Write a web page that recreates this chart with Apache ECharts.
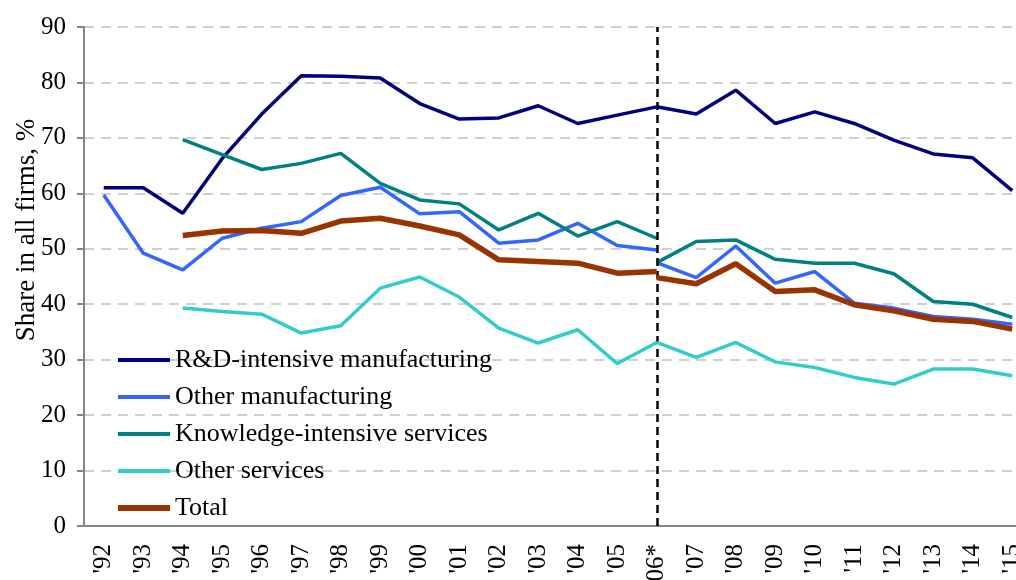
<!DOCTYPE html>
<html>
<head>
<meta charset="utf-8">
<script src="https://cdn.jsdelivr.net/npm/echarts@6/dist/echarts.min.js"></script>
<style>
  html, body { margin: 0; padding: 0; background: #fff; }
  #chart { width: 1016px; height: 580px; }
</style>
</head>
<body>
<div id="chart"></div>
<script>
// 年份 ('06 为断点，前后各一个值)
const years = ["'92", "'93", "'94", "'95", "'96", "'97", "'98", "'99", "'00", "'01", "'02", "'03", "'04", "'05", "'06*",
  "'07", "'08", "'09", "'10", "'11", "'12", "'13", "'14", "'15"];

// '92 - '06
const rdPre = [61.0, 61.0, 56.4, 66.3, 74.3, 81.2, 81.1, 80.8, 76.2, 73.4, 73.6, 75.8, 72.6, 74.1, 75.6];
const otherMfgPre = [59.7, 49.2, 46.2, 51.9, 53.7, 54.9, 59.6, 61.1, 56.3, 56.7, 51.0, 51.6, 54.6, 50.6, 49.8];
const kisPre = [null, null, 69.7, 67.0, 64.3, 65.4, 67.2, 61.8, 58.8, 58.1, 53.4, 56.4, 52.3, 54.9, 51.9];
const otherSrvPre = [null, null, 39.3, 38.7, 38.2, 34.8, 36.1, 42.9, 44.9, 41.3, 35.7, 33.0, 35.4, 29.3, 33.1];
const totalPre = [null, null, 52.4, 53.2, 53.3, 52.8, 55.0, 55.5, 54.1, 52.5, 48.0, 47.7, 47.4, 45.6, 45.9];

// '06 - '15
const rdPost = [75.6, 74.3, 78.6, 72.6, 74.7, 72.6, 69.6, 67.1, 66.4, 60.5];
const otherMfgPost = [47.5, 44.8, 50.5, 43.8, 45.9, 40.2, 39.3, 37.8, 37.3, 36.4];
const kisPost = [47.5, 51.3, 51.6, 48.1, 47.4, 47.4, 45.5, 40.5, 40.0, 37.6];
const otherSrvPost = [33.1, 30.4, 33.1, 29.6, 28.6, 26.8, 25.6, 28.3, 28.3, 27.1];
const totalPost = [44.8, 43.7, 47.3, 42.3, 42.6, 39.9, 38.8, 37.3, 36.9, 35.5];

const yTicks = [0, 10, 20, 30, 40, 50, 60, 70, 80, 90];

const FONT = 'Liberation Serif';
const breakIdx = 14;

const groups = [
  { name: 'R&D-intensive manufacturing', color: '#000080', width: 3.5, pre: rdPre, post: rdPost },
  { name: 'Other manufacturing', color: '#3366ff', width: 3.5, pre: otherMfgPre, post: otherMfgPost },
  { name: 'Knowledge-intensive services', color: '#008080', width: 3.5, pre: kisPre, post: kisPost },
  { name: 'Other services', color: '#33cccc', width: 3.5, pre: otherSrvPre, post: otherSrvPost },
  { name: 'Total', color: '#993300', width: 5.5, pre: totalPre, post: totalPost },
];

// 断点前后拆成两条线，同名共用一个图例
const padPre = (arr) => years.map((y, i) => (i < arr.length ? arr[i] : null));
const padPost = (arr) => years.map((y, i) => (i >= breakIdx ? arr[i - breakIdx] : null));

const series = [];
groups.forEach((g, gi) => {
  const common = {
    name: g.name,
    type: 'line',
    symbol: 'none',
    connectNulls: false,
    color: g.color,
    lineStyle: { color: g.color, width: g.width },
    z: 2 + gi,
  };
  series.push({ ...common, data: padPre(g.pre) });
  series.push({ ...common, data: padPost(g.post) });
});

// 2006 断点竖线
series[0].markLine = {
  silent: true,
  symbol: 'none',
  label: { show: false },
  lineStyle: { color: '#000', type: [8, 5], width: 2.5 },
  data: [{ xAxis: "'06*" }],
};

const chart = echarts.init(document.getElementById('chart'), null, { renderer: 'canvas' });
chart.setOption({
  animation: false,
  backgroundColor: '#fff',
  textStyle: { fontFamily: FONT },
  grid: { left: 84, right: -16, top: 27, bottom: 54, containLabel: false, outerBoundsMode: 'none' },
  legend: {
    orient: 'vertical',
    left: 115,
    top: 347,
    padding: 0,
    itemWidth: 52,
    itemHeight: 14,
    itemGap: 11,
    itemStyle: { opacity: 0 },
    data: groups.map((g) => ({
      name: g.name,
      lineStyle: { color: g.color, width: g.width + 0.5 },
    })),
    textStyle: { fontFamily: FONT, fontSize: 26, color: '#000', lineHeight: 25 },
  },
  xAxis: {
    type: 'category',
    data: years,
    boundaryGap: true,
    axisLine: { lineStyle: { color: '#868686', width: 2 } },
    axisTick: { show: false },
    axisLabel: { rotate: 90, margin: 18, fontFamily: FONT, fontSize: 25, color: '#000', interval: 0 },
  },
  yAxis: {
    type: 'value',
    min: yTicks[0],
    max: yTicks[yTicks.length - 1],
    interval: 10,
    axisLine: { show: true, lineStyle: { color: '#868686', width: 2 } },
    axisTick: { show: true, length: 7, lineStyle: { color: '#868686', width: 2 } },
    axisLabel: { margin: 18, fontFamily: FONT, fontSize: 25, color: '#000' },
    splitLine: { lineStyle: { color: '#c0c0c0', type: [10, 7], width: 1.5 } },
  },
  graphic: [
    {
      type: 'text',
      x: 27,
      y: 230,
      rotation: Math.PI / 2,
      style: {
        text: 'Share in all firms, %',
        fontFamily: FONT,
        fontSize: 27,
        fill: '#000',
        align: 'center',
        verticalAlign: 'middle',
      },
    },
  ],
  series: series,
});
</script>
</body>
</html>
